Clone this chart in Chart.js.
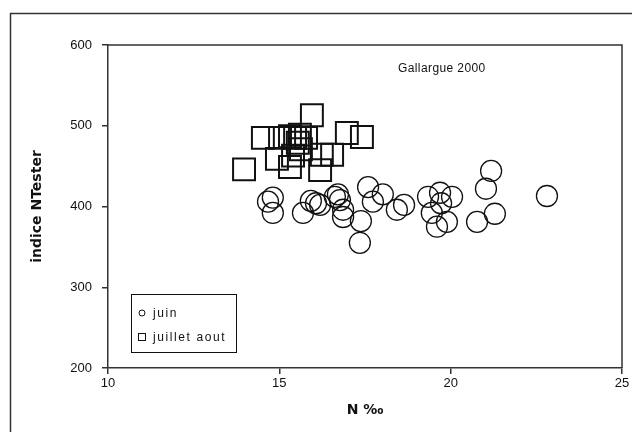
<!DOCTYPE html>
<html>
<head>
    <meta charset="UTF-8">
    <title>Gallargue 2000</title>
    <script src="https://cdn.jsdelivr.net/npm/chart.js"></script>
    <style>
        html, body { margin: 0; padding: 0; background: #fff; }
        #wrap { width: 632px; height: 432px; position: relative; }
    </style>
</head>
<body>
    <div id="wrap"><canvas id="nChart" width="632" height="432"></canvas></div>

    <script>
        // données
        const juinN = [14.81, 14.67, 14.81, 15.69, 15.92, 16.07, 16.19, 16.71, 16.62, 16.77, 16.86, 16.86,
                       17.38, 17.35, 17.59, 17.73, 18.02, 18.43, 18.64, 19.34, 19.69, 20.04, 19.45, 19.89,
                       19.60, 19.72, 21.18, 21.03, 20.77, 21.29, 22.81];
        const juinIndice = [411, 406, 392, 392, 407, 404, 402, 415, 412, 408, 396, 387,
                            382, 355, 424, 406, 415, 396, 402, 412, 417, 412, 392, 381,
                            375, 404, 444, 422, 381, 391, 413];

        const juilletN = [13.97, 15.95, 14.52, 15.02, 15.46, 15.60, 15.78, 15.31, 14.93, 15.40,
                          15.31, 15.63, 16.24, 16.54, 16.19, 16.97, 17.41, 15.54];
        const juilletIndice = [446, 513, 485, 485, 485, 489, 485, 487, 459, 463,
                               449, 471, 464, 464, 445, 491, 486, 479];

        const xTicks = [10, 15, 20, 25];
        const yTicks = [200, 300, 400, 500, 600];
        const seriesNames = ['juin', 'juillet aout'];
        const chartTitle = 'Gallargue 2000';

        const FONT = '"Liberation Sans", Arial, sans-serif';
        const BOLD = '"DejaVu Sans", Arial, sans-serif';
        const INK = '#111';

        function pairs(xs, ys) {
            return xs.map((x, i) => ({ x: x, y: ys[i] }));
        }

        // cadre, bord du tracé, titre et légende
        const decor = {
            id: 'decor',
            beforeDraw(chart) {
                const c = chart.ctx;
                c.save();
                c.strokeStyle = '#333';
                c.lineWidth = 1.5;
                c.strokeRect(10.5, 13.5, 700, 500);
                c.restore();
            },
            afterDraw(chart) {
                const c = chart.ctx;
                const a = chart.chartArea;
                c.save();
                c.strokeStyle = '#333';
                c.lineWidth = 1.5;
                c.beginPath();
                c.moveTo(a.left, a.top);
                c.lineTo(a.right, a.top);
                c.lineTo(a.right, a.bottom);
                c.stroke();

                c.fillStyle = INK;
                c.font = '12px ' + FONT;
                c.textBaseline = 'middle';
                c.textAlign = 'left';
                c.letterSpacing = '0.4px';
                c.fillText(chartTitle, 398, 69);

                // légende
                c.lineWidth = 1;
                c.strokeStyle = INK;
                c.strokeRect(131.5, 294.5, 105, 58);
                c.beginPath();
                c.arc(142, 313, 3, 0, Math.PI * 2);
                c.stroke();
                c.strokeRect(138.5, 333.5, 7, 7);
                c.letterSpacing = '1.6px';
                c.fillText(seriesNames[0], 153, 314);
                c.fillText(seriesNames[1], 153, 338);
                c.restore();
            }
        };

        const ctx = document.getElementById('nChart').getContext('2d');
        new Chart(ctx, {
            type: 'scatter',
            data: {
                datasets: [{
                    label: seriesNames[0],
                    data: pairs(juinN, juinIndice),
                    pointStyle: 'circle',
                    radius: 10.5,
                    borderColor: INK,
                    borderWidth: 1.3,
                    backgroundColor: 'rgba(0,0,0,0)'
                }, {
                    label: seriesNames[1],
                    data: pairs(juilletN, juilletIndice),
                    pointStyle: 'rect',
                    radius: 15.5,
                    borderColor: INK,
                    borderWidth: 2,
                    backgroundColor: 'rgba(0,0,0,0)'
                }]
            },
            options: {
                responsive: false,
                animation: false,
                events: [],
                layout: { autoPadding: false, padding: { left: 0, top: 45, right: 10, bottom: 0 } },
                plugins: {
                    legend: { display: false },
                    tooltip: { enabled: false }
                },
                scales: {
                    x: {
                        type: 'linear',
                        min: 10,
                        max: 25,
                        afterBuildTicks(scale) {
                            scale.ticks = xTicks.map(v => ({ value: v }));
                        },
                        afterFit(scale) {
                            scale.height = 64;
                            scale.paddingLeft = 0;
                            scale.paddingRight = 0;
                        },
                        border: { display: true, color: '#333', width: 1.5 },
                        grid: { display: true, drawOnChartArea: false, drawTicks: true,
                                tickLength: 6, color: '#333', lineWidth: 1.5 },
                        ticks: { color: INK, padding: 2, font: { family: FONT, size: 13 } },
                        title: {
                            display: true,
                            text: 'N ‰',
                            color: INK,
                            padding: { top: 4, bottom: 13 },
                            font: { family: BOLD, size: 14, weight: 'bold' }
                        }
                    },
                    y: {
                        type: 'linear',
                        min: 200,
                        max: 600,
                        afterBuildTicks(scale) {
                            scale.ticks = yTicks.map(v => ({ value: v }));
                        },
                        afterFit(scale) {
                            scale.width = 108;
                            scale.paddingTop = 0;
                            scale.paddingBottom = 0;
                        },
                        border: { display: true, color: '#333', width: 1.5 },
                        grid: { display: true, drawOnChartArea: false, drawTicks: true,
                                tickLength: 6, color: '#333', lineWidth: 1.5 },
                        ticks: { color: INK, padding: 10, font: { family: FONT, size: 13 } },
                        title: {
                            display: true,
                            text: 'indice NTester',
                            color: INK,
                            padding: { top: 29, bottom: 29 },
                            font: { family: BOLD, size: 14, weight: 'bold' }
                        }
                    }
                }
            },
            plugins: [decor]
        });
    </script>
</body>
</html>
